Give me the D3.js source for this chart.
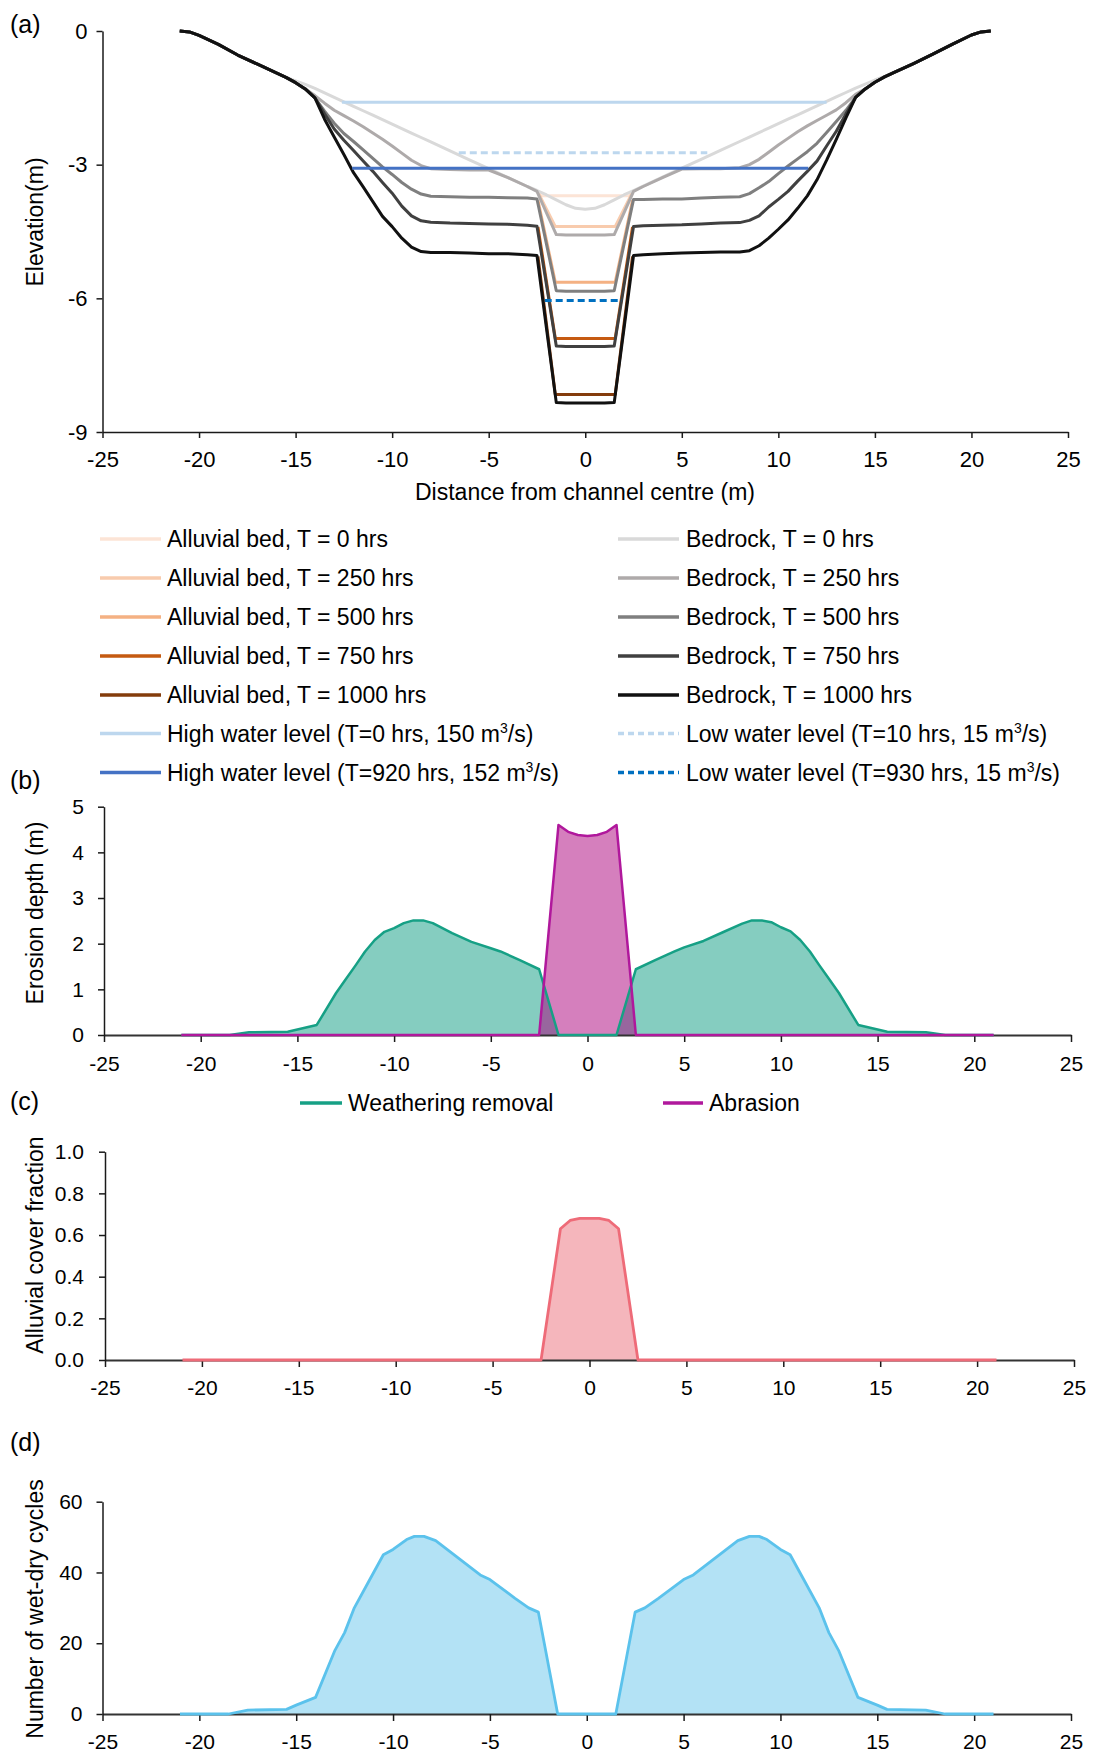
<!DOCTYPE html>
<html><head><meta charset="utf-8">
<script src="https://cdn.jsdelivr.net/npm/d3@7"></script>
<style>
body{margin:0;background:#fff;}
svg text{font-family:"Liberation Sans",Arial,Helvetica,sans-serif;fill:#000;}
</style></head><body>
<svg id="fig" width="1093" height="1753"></svg>
<script>
// ---------- Panel (a): cross-section profiles ----------
const profileX = [-21,-20.5,-20,-19,-18,-17,-16,-15.5,-15,-14.5,-14,-13.5,-13,-12.5,-12,-11.5,-11,-10.5,-10,-9.5,-9,-8.5,-8,-7,-6,-5,-4,-3,-2.5,-2,
  -1.5,-1,-0.5,0,0.5,1,1.5,2,2.5,3,
  4,5,6,7,8,8.5,9,9.5,10,10.5,11,11.5,12,12.5,13,13.5,14,14.5,15,15.5,16,17,18,19,20,20.5,21];

const bedrockT0 = [0,-0.02,-0.1,-0.3,-0.54,-0.74,-0.94,-1.04,-1.12,-1.2,-1.29,-1.39,-1.49,-1.59,-1.69,-1.79,-1.89,-1.99,-2.09,-2.19,-2.29,-2.39,-2.49,-2.69,-2.89,-3.09,-3.29,-3.49,-3.58,-3.68,
  -3.79,-3.9,-3.98,-4.0,-3.98,-3.9,-3.79,-3.68,-3.58,-3.48,
  -3.28,-3.08,-2.88,-2.68,-2.48,-2.38,-2.28,-2.18,-2.08,-1.98,-1.88,-1.78,-1.68,-1.58,-1.48,-1.38,-1.28,-1.19,-1.1,-1.02,-0.93,-0.73,-0.52,-0.3,-0.09,-0.02,0];
const bedrockT250 = [0,-0.02,-0.1,-0.3,-0.54,-0.74,-0.94,-1.04,-1.16,-1.3,-1.45,-1.62,-1.78,-1.9,-2.02,-2.15,-2.29,-2.43,-2.58,-2.74,-2.9,-3.02,-3.09,-3.11,-3.12,-3.12,-3.29,-3.49,-3.6,-4.09,
  -4.57,-4.58,-4.58,-4.58,-4.58,-4.58,-4.57,-4.09,-3.6,-3.49,
  -3.29,-3.1,-3.09,-3.09,-3.07,-3.0,-2.88,-2.72,-2.56,-2.41,-2.26,-2.13,-2.01,-1.89,-1.77,-1.61,-1.42,-1.3,-1.15,-1.03,-0.93,-0.73,-0.52,-0.3,-0.09,-0.02,0];
const bedrockT500 = [0,-0.02,-0.1,-0.3,-0.54,-0.74,-0.94,-1.04,-1.16,-1.3,-1.5,-1.8,-2.07,-2.3,-2.48,-2.67,-2.86,-3.05,-3.22,-3.4,-3.55,-3.66,-3.71,-3.72,-3.73,-3.73,-3.74,-3.75,-3.77,-4.8,
  -5.83,-5.84,-5.84,-5.84,-5.84,-5.84,-5.83,-4.8,-3.78,-3.78,
  -3.77,-3.77,-3.75,-3.73,-3.72,-3.65,-3.52,-3.38,-3.2,-3.03,-2.87,-2.71,-2.52,-2.28,-2.03,-1.78,-1.49,-1.3,-1.15,-1.03,-0.93,-0.73,-0.52,-0.3,-0.09,-0.02,0];
const bedrockT750 = [0,-0.02,-0.1,-0.3,-0.54,-0.74,-0.94,-1.04,-1.16,-1.3,-1.5,-1.86,-2.2,-2.45,-2.68,-2.92,-3.15,-3.4,-3.64,-3.93,-4.15,-4.26,-4.29,-4.31,-4.32,-4.33,-4.34,-4.36,-4.38,-5.72,
  -7.07,-7.08,-7.08,-7.08,-7.08,-7.08,-7.07,-5.73,-4.39,-4.37,
  -4.36,-4.35,-4.33,-4.31,-4.3,-4.25,-4.15,-3.95,-3.78,-3.6,-3.37,-3.15,-2.92,-2.58,-2.25,-1.86,-1.49,-1.3,-1.15,-1.03,-0.93,-0.73,-0.52,-0.3,-0.09,-0.02,0];
const bedrockT1000 = [0,-0.02,-0.1,-0.3,-0.54,-0.74,-0.94,-1.04,-1.16,-1.3,-1.5,-1.98,-2.38,-2.77,-3.18,-3.5,-3.83,-4.16,-4.39,-4.65,-4.85,-4.95,-4.97,-4.97,-4.98,-5.0,-5.0,-5.02,-5.04,-6.7,
  -8.34,-8.35,-8.35,-8.35,-8.35,-8.35,-8.34,-6.7,-5.04,-5.02,
  -5.0,-4.98,-4.97,-4.96,-4.96,-4.93,-4.82,-4.65,-4.45,-4.24,-3.98,-3.7,-3.34,-2.9,-2.43,-1.95,-1.49,-1.3,-1.15,-1.03,-0.93,-0.73,-0.52,-0.3,-0.09,-0.02,0];

// alluvial bed surfaces inside the inner channel
const alluvialX    = [-2.45,-1.55,1.55,2.45];
const alluvialT0    = [-3.58,-3.7,-3.7,-3.58];
const alluvialT250  = [-3.62,-4.39,-4.39,-3.62];
const alluvialT500  = [-3.8,-5.64,-5.64,-3.8];
const alluvialT750  = [-4.4,-6.9,-6.9,-4.4];
const alluvialT1000 = [-5.06,-8.16,-8.16,-5.06];
const alluvialT0X   = [-2.5,-2.3,2.3,2.5];

// water levels: [left edge, right edge], elevation
const highWaterT0   = {x:[-12.6,12.5],  z:-1.6};
const highWaterT920 = {x:[-12.07,11.55], z:-3.08};
const lowWaterT10   = {x:[-6.55,6.32],  z:-2.73};
const lowWaterT930  = {x:[-2.1,1.9],    z:-6.05};

const timesHrs = [0,250,500,750,1000];
const waterLegend = [
  {pre:"High water level (T=0 hrs, 150 m", post:"/s)"},
  {pre:"High water level (T=920 hrs, 152 m", post:"/s)"},
  {pre:"Low water level (T=10 hrs, 15 m", post:"/s)"},
  {pre:"Low water level (T=930 hrs, 15 m", post:"/s)"}
];

// ---------- Panel (b): erosion depth ----------
const weatherX = [-21,-18.5,-17.5,-15.5,-14,-13,-12.5,-12,-11.5,-11,-10.5,-10,-9.5,-9,-8.5,-8,-7,-6,-5,-4.5,-3.5,-2.5,-1.5,
  1.5,2.5,3.5,4.5,5,6,7,8,8.5,9,9.5,10,10.5,11,11.5,12,12.5,13,14,15.5,17.5,18.5,21];
const weatherDepth = [0,0,0.06,0.07,0.22,0.92,1.22,1.52,1.83,2.08,2.26,2.34,2.45,2.51,2.51,2.45,2.23,2.04,1.9,1.83,1.64,1.44,0,
  0,1.44,1.64,1.83,1.92,2.06,2.25,2.44,2.51,2.51,2.47,2.36,2.27,2.08,1.83,1.52,1.22,0.92,0.22,0.07,0.06,0,0];
const abrasionX = [-21,-2.5,-1.5,-1,-0.5,0,0.5,1,1.5,2.5,21];
const abrasionDepth = [0,0,4.6,4.45,4.38,4.36,4.38,4.45,4.6,0,0];

// ---------- Panel (c): alluvial cover ----------
const coverX = [-21,-2.5,-1.5,-1,-0.5,0,0.5,1,1.5,2.5,21];
const coverFraction = [0,0,0.63,0.67,0.68,0.68,0.68,0.67,0.63,0,0];

// ---------- Panel (d): wet-dry cycles ----------
const cyclesX = [-21,-18.5,-17.5,-15.5,-15,-14,-13,-12.5,-12,-11.2,-10.5,-10,-9.3,-8.9,-8.4,-7.8,-5.5,-5,-3.7,-3,-2.5,-1.5,
  1.5,2.5,3,3.7,5,5.5,7.8,8.4,8.9,9.3,10,10.5,11.2,12,12.5,13,14,15,15.5,17.5,18.5,21];
const cyclesCount = [0,0,1.1,1.3,2.5,4.7,18,23,30,38,45,46.5,49.3,50.2,50.2,49,39.3,38,32.7,30,28.8,0,
  0,28.8,30,32.7,38,39.3,49,50.2,50.2,49.3,46.5,45,38,30,23,18,4.7,2.5,1.3,1.1,0,0];

// ---------- drawing ----------
const svg = d3.select("#fig");
const FONT_TICK_A = 22, FONT_TICK = 21, FONT_TITLE = 23, FONT_LEG = 23;
// plain hyphen-minus tick labels
const fmtInt = d => String(d);
const fmtOne = d => d.toFixed(1);

function styleAxis(g, fs){
  g.selectAll("path.domain").attr("stroke","#1a1a1a").attr("stroke-width",1.5);
  g.selectAll(".tick line").attr("stroke","#1a1a1a").attr("stroke-width",1.5);
  g.selectAll(".tick text").attr("font-size",fs).attr("fill","#000")
    .attr("font-family","'Liberation Sans',Arial,sans-serif");
}

function panelLabel(txt, x, y){
  svg.append("text").attr("x",x).attr("y",y).attr("font-size",25).text(txt);
}
function yTitle(txt, x, cy){
  svg.append("text").attr("transform",`translate(${x},${cy}) rotate(-90)`)
    .attr("text-anchor","middle").attr("font-size",FONT_TITLE).text(txt);
}

// ===== (a) =====
const xA = d3.scaleLinear().domain([-25,25]).range([102.5,1068]);
const yA = d3.scaleLinear().domain([-9,0]).range([432,31]);
const lineA = d3.line().x(d=>xA(d[0])).y(d=>yA(d[1]));

const gA = svg.append("g");
gA.append("g").attr("transform",`translate(0,${yA(-9)})`)
  .call(d3.axisBottom(xA).tickValues(d3.range(-25,26,5)).tickFormat(fmtInt).tickSize(6).tickSizeOuter(0).tickPadding(13))
  .call(g=>styleAxis(g,FONT_TICK_A));
gA.append("g").attr("transform",`translate(${xA(-25)},0)`)
  .call(d3.axisLeft(yA).tickValues([0,-3,-6,-9]).tickFormat(fmtInt).tickSize(6).tickSizeOuter(0).tickPadding(9))
  .call(g=>styleAxis(g,FONT_TICK_A));

const alluvialColors = ["#fce4d6","#f8cbad","#f4b183","#c55a11","#843c0c"];
const bedrockColors  = ["#d9d9d9","#aeaaaa","#7f7f7f","#404040","#111111"];
const alluvialSeries = [
  d3.zip(alluvialT0X, alluvialT0),
  d3.zip(alluvialX, alluvialT250),
  d3.zip(alluvialX, alluvialT500),
  d3.zip(alluvialX, alluvialT750),
  d3.zip(alluvialX, alluvialT1000)
];
const bedrockSeries = [bedrockT0,bedrockT250,bedrockT500,bedrockT750,bedrockT1000].map(s=>d3.zip(profileX,s));

alluvialSeries.forEach((s,i)=>{
  gA.append("path").attr("d",lineA(s)).attr("fill","none")
    .attr("stroke",alluvialColors[i]).attr("stroke-width",3).attr("stroke-linejoin","round");
});
bedrockSeries.forEach((s,i)=>{
  gA.append("path").attr("d",lineA(s)).attr("fill","none")
    .attr("stroke",bedrockColors[i]).attr("stroke-width",3).attr("stroke-linejoin","round");
});
const waterStyles = [
  {c:"#bdd7ee",dash:null},{c:"#4472c4",dash:null},{c:"#bdd7ee",dash:"7,4"},{c:"#0070c0",dash:"7,4"}
];
[highWaterT0,highWaterT920,lowWaterT10,lowWaterT930].forEach((w,i)=>{
  gA.append("path").attr("d",lineA([[w.x[0],w.z],[w.x[1],w.z]])).attr("fill","none")
    .attr("stroke",waterStyles[i].c).attr("stroke-width",3)
    .attr("stroke-dasharray",waterStyles[i].dash);
});

panelLabel("(a)",10,33);
yTitle("Elevation(m)",43,222);
svg.append("text").attr("x",585).attr("y",500).attr("text-anchor","middle")
  .attr("font-size",FONT_TITLE).text("Distance from channel centre (m)");

// legend of (a)
const legRows = [539,578,617,656,695,733.5,772.5];
const legL = {x0:100,x1:161,tx:167}, legR = {x0:618,x1:679,tx:686};
const legG = svg.append("g");
function legLine(col,row,color,dash){
  legG.append("line").attr("x1",col.x0).attr("x2",col.x1).attr("y1",legRows[row]).attr("y2",legRows[row])
    .attr("stroke",color).attr("stroke-width",3.5).attr("stroke-dasharray",dash||null);
}
function legText(col,row,txt){
  return legG.append("text").attr("x",col.tx).attr("y",legRows[row]+8).attr("font-size",FONT_LEG).text(txt);
}
timesHrs.forEach((t,i)=>{
  legLine(legL,i,alluvialColors[i]); legText(legL,i,`Alluvial bed, T = ${t} hrs`);
  legLine(legR,i,bedrockColors[i]);  legText(legR,i,`Bedrock, T = ${t} hrs`);
});
function waterText(col,row,item){
  const t = legG.append("text").attr("x",col.tx).attr("y",legRows[row]+8).attr("font-size",FONT_LEG);
  t.append("tspan").text(item.pre);
  t.append("tspan").attr("font-size",14).attr("dy",-9).text("3");
  t.append("tspan").attr("dy",9).text(item.post);
}
legLine(legL,5,waterStyles[0].c); waterText(legL,5,waterLegend[0]);
legLine(legL,6,waterStyles[1].c); waterText(legL,6,waterLegend[1]);
legLine(legR,5,waterStyles[2].c,"6,4"); waterText(legR,5,waterLegend[2]);
legLine(legR,6,waterStyles[3].c,"6,4"); waterText(legR,6,waterLegend[3]);

// helper for the lower panels
function lowerPanel(xr, yDomain, yRange, ticks, fmt, xPad, yPad){
  const x = d3.scaleLinear().domain([-25,25]).range(xr);
  const y = d3.scaleLinear().domain(yDomain).range(yRange);
  return {x,y,
    axes(g){
      const gx = g.append("g").attr("transform",`translate(0,${y(0)})`)
        .call(d3.axisBottom(x).tickValues(d3.range(-25,26,5)).tickFormat(fmtInt).tickSize(7).tickSizeOuter(0).tickPadding(xPad))
        .call(s=>styleAxis(s,FONT_TICK));
      gx.select("path.domain").attr("stroke","#333").attr("stroke-width",2.2);
      const gy = g.append("g").attr("transform",`translate(${x(-25)},0)`)
        .call(d3.axisLeft(y).tickValues(ticks).tickFormat(fmt).tickSize(6).tickSizeOuter(0).tickPadding(yPad))
        .call(s=>styleAxis(s,FONT_TICK));
      return {gx,gy};
    }};
}
function areaPath(P, xs, ys){
  return d3.area().x(d=>P.x(d[0])).y0(P.y(0)).y1(d=>P.y(d[1]))(d3.zip(xs,ys));
}
function linePath(P, xs, ys){
  return d3.line().x(d=>P.x(d[0])).y(d=>P.y(d[1]))(d3.zip(xs,ys));
}

// ===== (b) =====
const PB = lowerPanel([104,1071],[0,5],[1035,806.7],[0,1,2,3,4,5],fmtInt,14,14);
const gB = svg.append("g");
gB.append("path").attr("d",areaPath(PB,weatherX,weatherDepth)).attr("fill","#85cdc0");
gB.append("path").attr("d",areaPath(PB,abrasionX,abrasionDepth)).attr("fill","rgba(171,0,123,0.5)");
PB.axes(gB);
gB.append("path").attr("d",linePath(PB,weatherX,weatherDepth)).attr("fill","none")
  .attr("stroke","#16a085").attr("stroke-width",2.5).attr("stroke-linejoin","round");
gB.append("path").attr("d",linePath(PB,abrasionX,abrasionDepth)).attr("fill","none")
  .attr("stroke","#b0189c").attr("stroke-width",2.5).attr("stroke-linejoin","round");
panelLabel("(b)",10,789);
yTitle("Erosion depth (m)",43,913);

// legend of (b)
svg.append("line").attr("x1",300).attr("x2",342).attr("y1",1103).attr("y2",1103)
  .attr("stroke","#16a085").attr("stroke-width",3.5);
svg.append("text").attr("x",348).attr("y",1111).attr("font-size",FONT_LEG).text("Weathering removal");
svg.append("line").attr("x1",663).attr("x2",703).attr("y1",1103).attr("y2",1103)
  .attr("stroke","#b0189c").attr("stroke-width",3.5);
svg.append("text").attr("x",709).attr("y",1111).attr("font-size",FONT_LEG).text("Abrasion");

// ===== (c) =====
const PC = lowerPanel([105,1074],[0,1],[1360,1151.7],[0,0.2,0.4,0.6,0.8,1.0],fmtOne,13,15);
const gC = svg.append("g");
gC.append("path").attr("d",areaPath(PC,coverX,coverFraction)).attr("fill","#f5b6bc");
PC.axes(gC);
gC.append("path").attr("d",linePath(PC,coverX,coverFraction)).attr("fill","none")
  .attr("stroke","#ee6b78").attr("stroke-width",2.8).attr("stroke-linejoin","round");
panelLabel("(c)",10,1110);
yTitle("Alluvial cover fraction",43,1245);

// ===== (d) =====
const PD = lowerPanel([102.5,1071],[0,60],[1714,1501.7],[0,20,40,60],fmtInt,13,14);
const gD = svg.append("g");
gD.append("path").attr("d",areaPath(PD,cyclesX,cyclesCount)).attr("fill","#b3e2f5");
PD.axes(gD);
gD.append("path").attr("d",linePath(PD,cyclesX,cyclesCount)).attr("fill","none")
  .attr("stroke","#5bc2ec").attr("stroke-width",2.8).attr("stroke-linejoin","round");
panelLabel("(d)",10,1451);
yTitle("Number of wet-dry cycles",43,1609);
</script>
</body></html>
